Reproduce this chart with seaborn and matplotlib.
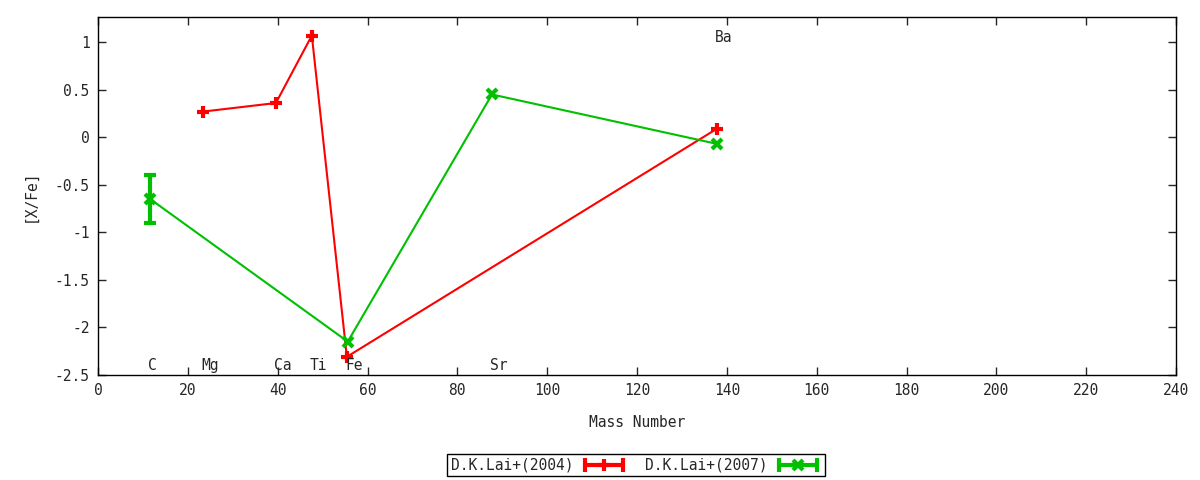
import pandas as pd
import matplotlib.pyplot as plt
from matplotlib.lines import Line2D
from matplotlib.legend_handler import HandlerLine2D
import seaborn as sns

# D.K.Lai+(2004)
lai04_mass = [23.4, 39.6, 47.6, 55.4, 137.8]
lai04_xfe = [0.27, 0.36, 1.07, -2.31, 0.09]

# D.K.Lai+(2007)
lai07_mass = [11.6, 55.6, 87.7, 137.8]
lai07_xfe = [-0.65, -2.15, 0.45, -0.07]
lai07_err = [0.25, 0.0, 0.0, 0.0]

# element labels
elements = ['C', 'Mg', 'Ca', 'Ti', 'Fe', 'Sr', 'Ba']
element_mass = [11.6, 23.4, 39.6, 47.6, 55.5, 87.7, 137.8]
element_y = [-2.4, -2.4, -2.4, -2.4, -2.4, -2.4, 1.05]

RED = '#ff0000'
GREEN = '#00c000'

sns.set_style('ticks')
plt.rcParams['font.family'] = ['DejaVu Sans Mono', 'DejaVu Sans']
plt.rcParams['font.size'] = 10.5

df04 = pd.DataFrame({'mass': lai04_mass, 'xfe': lai04_xfe})
df07 = pd.DataFrame({'mass': lai07_mass, 'xfe': lai07_xfe, 'err': lai07_err})

fig = plt.figure(figsize=(12, 4.8), dpi=100)
ax = fig.add_axes([0.0817, 0.219, 0.8983, 0.7456])

sns.lineplot(data=df04, x='mass', y='xfe', sort=False, color=RED, lw=1.5,
             marker='+', markersize=8, markeredgewidth=3,
             markeredgecolor=RED, ax=ax)
sns.lineplot(data=df07, x='mass', y='xfe', sort=False, color=GREEN, lw=1.5,
             marker='x', markersize=7, markeredgewidth=3,
             markeredgecolor=GREEN, ax=ax)
errs = df07[df07['err'] > 0]
ax.errorbar(errs['mass'], errs['xfe'], yerr=errs['err'], fmt='none',
            ecolor=GREEN, elinewidth=3, capsize=4, capthick=3)

for name, m, y in zip(elements, element_mass, element_y):
    ax.annotate(name, (m, y), xytext=(-1.5, 0), textcoords='offset points',
                ha='left', va='center', fontsize=10.5)

ax.set_xlim(0, 240)
ax.set_ylim(-2.5, 1.265)
ax.set_xticks(range(0, 241, 20))
ax.set_yticks([-2.5, -2, -1.5, -1, -0.5, 0, 0.5, 1])
ax.set_yticklabels(['-2.5', '-2', '-1.5', '-1', '-0.5', '0', '0.5', '1'])
ax.tick_params(direction='in', top=True, right=True, length=6, width=1,
               labelsize=10.5, pad=6)
for s in ax.spines.values():
    s.set_linewidth(1)
    s.set_color('black')
ax.set_xlabel('Mass Number', fontsize=10.5, labelpad=12)
ax.set_ylabel('[X/Fe]', fontsize=10.5, labelpad=12)

# gnuplot-style legend keys: bar with end caps and a marker in the middle
handles, hmap = [], {}
for col, mk, ms in [(RED, '+', 8), (GREEN, 'x', 7)]:
    bar = Line2D([], [], color=col, lw=3, marker='|', markersize=10, markeredgewidth=3)
    mid = Line2D([], [], color=col, ls='none', marker=mk, markersize=ms, markeredgewidth=3)
    hmap[bar] = HandlerLine2D(numpoints=2)
    hmap[mid] = HandlerLine2D(numpoints=1)
    handles.append((bar, mid))

leg = fig.legend(handles, ['D.K.Lai+(2004)', 'D.K.Lai+(2007)'], loc='center',
                 bbox_to_anchor=(0.53, 0.031), ncol=2, markerfirst=False,
                 handler_map=hmap, frameon=True, fancybox=False,
                 edgecolor='black', framealpha=1, fontsize=10.5,
                 handlelength=3.2, borderpad=0.25, borderaxespad=0,
                 columnspacing=1.2, handletextpad=0.5)
leg.get_frame().set_linewidth(1)

fig.savefig('out.png', dpi=100)
